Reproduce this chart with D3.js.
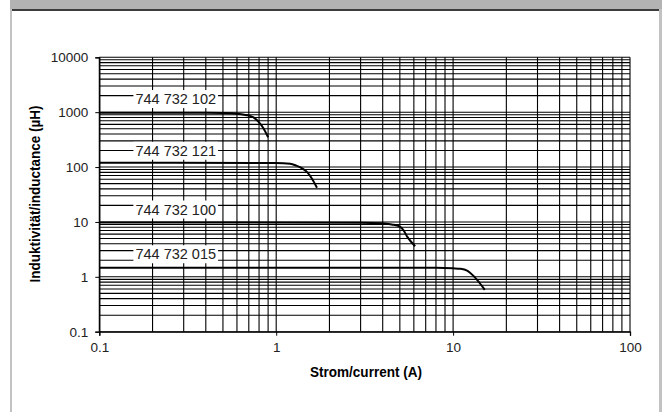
<!DOCTYPE html>
<html>
<head>
<meta charset="utf-8">
<script src="https://cdn.jsdelivr.net/npm/d3@7"></script>
<style>
  html, body { margin: 0; padding: 0; background: #fff; }
  svg { display: block; }
</style>
</head>
<body>
<div id="chart"></div>
<script>
// ---------------------------------------------------------
// inductance vs. current, log/log, four chokes
// ---------------------------------------------------------

const width = 663;
const height = 412;

// axis ticks
const xTickValues = [0.1, 1, 10, 100];
const xTickLabels = ["0.1", "1", "10", "100"];
const yTickValues = [0.1, 1, 10, 100, 1000, 10000];
const yTickLabels = ["0.1", "1", "10", "100", "1000", "10000"];

// series
const parts = ["744 732 102", "744 732 121", "744 732 100", "744 732 015"];

const current102 = [0.1, 0.4, 0.5, 0.6, 0.67, 0.74, 0.8, 0.85, 0.9];
const induct102 = [980, 975, 965, 940, 890, 810, 650, 500, 350];

const current121 = [0.1, 1.0, 1.2, 1.3, 1.4, 1.5, 1.6, 1.7];
const induct121 = [120, 118, 115, 106, 95, 80, 60, 42];

const current100 = [0.1, 3.0, 4.0, 4.5, 5.0, 5.25, 5.5, 6.1];
const induct100 = [9.8, 9.7, 9.5, 9.0, 8.2, 7.0, 5.4, 3.6];

const current015 = [0.1, 8, 10, 11, 12, 13, 14, 15.1];
const induct015 = [1.47, 1.46, 1.43, 1.40, 1.30, 1.05, 0.8, 0.58];

// where the part numbers sit (current, inductance)
const labelCurrent = [0.16, 0.16, 0.16, 0.16];
const labelInduct = [1750, 200, 17, 2.6];

const series = [
  { name: parts[0], I: current102, L: induct102 },
  { name: parts[1], I: current121, L: induct121 },
  { name: parts[2], I: current100, L: induct100 },
  { name: parts[3], I: current015, L: induct015 }
];

// ---------------------------------------------------------
// SVG + frame
// ---------------------------------------------------------

const svg = d3.select("#chart")
  .append("svg")
  .attr("width", width)
  .attr("height", height);

svg.append("rect").attr("x", 10).attr("y", 0).attr("width", 652).attr("height", 9).attr("fill", "#b3b3b3");
svg.append("rect").attr("x", 12).attr("y", 9).attr("width", 647).attr("height", 2).attr("fill", "#3c3c3c");
svg.append("rect").attr("x", 10).attr("y", 9).attr("width", 2).attr("height", height).attr("fill", "#c2c2c2");
svg.append("rect").attr("x", 659).attr("y", 9).attr("width", 3).attr("height", height).attr("fill", "#c2c2c2");

// ---------------------------------------------------------
// scales
// ---------------------------------------------------------

const x = d3.scaleLog().domain([0.1, 100]).range([99.3, 630]);
const y = d3.scaleLog().domain([0.1, 10000]).range([331.7, 57.3]);

// grid
const grid = svg.append("g").attr("stroke", "#000").attr("stroke-width", 1.1);

grid.selectAll("line.v")
  .data(x.ticks())
  .enter().append("line")
  .attr("class", "v")
  .attr("x1", d => x(d)).attr("x2", d => x(d))
  .attr("y1", y.range()[0]).attr("y2", y.range()[1]);

grid.selectAll("line.h")
  .data(y.ticks())
  .enter().append("line")
  .attr("class", "h")
  .attr("y1", d => y(d)).attr("y2", d => y(d))
  .attr("x1", x.range()[0]).attr("x2", x.range()[1]);

// ---------------------------------------------------------
// axes
// ---------------------------------------------------------

const tickFont = "'Liberation Sans', Arial, sans-serif";

const xAxis = svg.append("g")
  .attr("transform", `translate(0,${y.range()[0]})`)
  .call(d3.axisBottom(x)
    .tickValues(xTickValues)
    .tickFormat((d, i) => xTickLabels[i])
    .tickSize(4)
    .tickPadding(7));

const yAxis = svg.append("g")
  .attr("transform", `translate(${x.range()[0]},0)`)
  .call(d3.axisLeft(y)
    .tickValues(yTickValues)
    .tickFormat((d, i) => yTickLabels[i])
    .tickSize(4)
    .tickPadding(7));

[xAxis, yAxis].forEach(a => {
  a.select(".domain").attr("stroke", "#000").attr("stroke-width", 1.3);
  a.selectAll(".tick line").attr("stroke", "#000");
  a.selectAll(".tick text")
    .attr("fill", "#222")
    .style("font-family", tickFont)
    .style("font-size", "13.5px");
});

// ---------------------------------------------------------
// curves
// ---------------------------------------------------------

const line = d3.line()
  .x(d => x(d[0]))
  .y(d => y(d[1]))
  .curve(d3.curveMonotoneX);

svg.selectAll("path.curve")
  .data(series)
  .enter().append("path")
  .attr("class", "curve")
  .attr("fill", "none")
  .attr("stroke", "#000")
  .attr("stroke-width", 2)
  .attr("d", s => line(s.I.map((v, i) => [v, s.L[i]])));

// ---------------------------------------------------------
// part number labels (white box hides the grid)
// ---------------------------------------------------------

const labels = svg.selectAll("g.lbl")
  .data(parts)
  .enter().append("g")
  .attr("class", "lbl");

labels.append("rect").attr("fill", "#fff");

labels.append("text")
  .attr("x", (d, i) => x(labelCurrent[i]))
  .attr("y", (d, i) => y(labelInduct[i]))
  .attr("dy", "0.36em")
  .attr("fill", "#222")
  .style("font-family", tickFont)
  .style("font-size", "14.5px")
  .text(d => d);

labels.each(function () {
  const g = d3.select(this);
  const b = g.select("text").node().getBBox();
  g.select("rect")
    .attr("x", b.x - 2)
    .attr("y", b.y - 1)
    .attr("width", b.width + 4)
    .attr("height", b.height + 2);
});

// ---------------------------------------------------------
// axis titles (condensed bold, squeezed to the original width)
// ---------------------------------------------------------

const titleFont = "'Liberation Sans', Arial, sans-serif";

svg.append("text")
  .attr("x", 366)
  .attr("y", 377)
  .attr("text-anchor", "middle")
  .attr("textLength", 112)
  .attr("lengthAdjust", "spacingAndGlyphs")
  .style("font-family", titleFont)
  .style("font-weight", "bold")
  .style("font-size", "15.5px")
  .text("Strom/current (A)");

svg.append("text")
  .attr("transform", "translate(40,194) rotate(-90)")
  .attr("text-anchor", "middle")
  .attr("textLength", 177)
  .attr("lengthAdjust", "spacingAndGlyphs")
  .style("font-family", titleFont)
  .style("font-weight", "bold")
  .style("font-size", "15.5px")
  .text("Induktivität/inductance (µH)");
</script>
</body>
</html>
